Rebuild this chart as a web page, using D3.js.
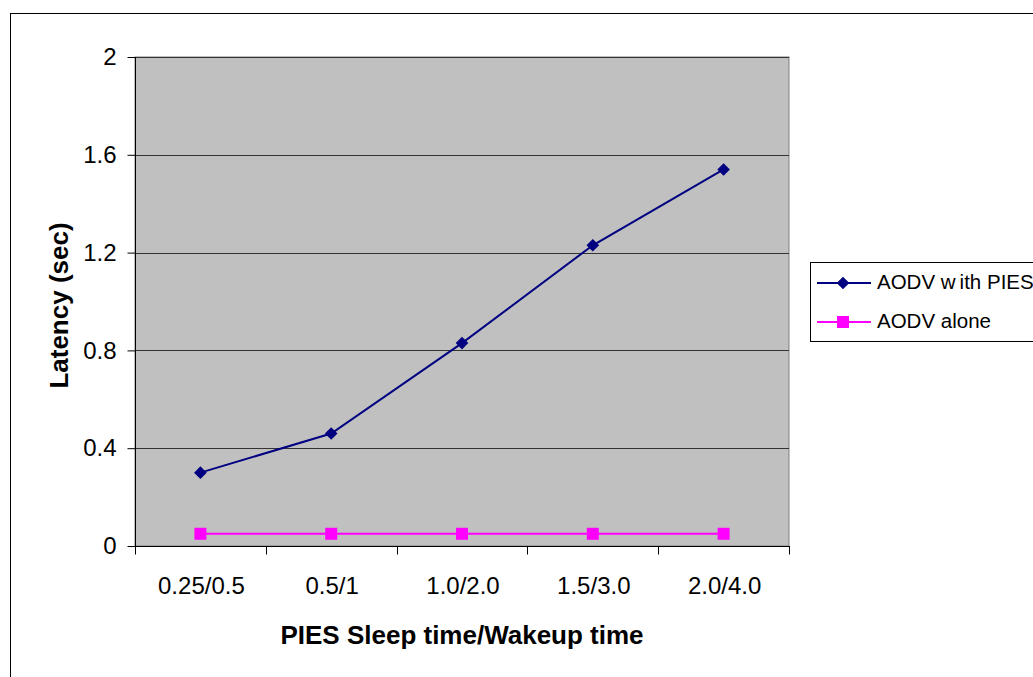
<!DOCTYPE html>
<html>
<head>
<meta charset="utf-8">
<script src="https://cdn.jsdelivr.net/npm/d3@7"></script>
<style>
  html, body { margin: 0; padding: 0; background: #fff; }
  svg { display: block; font-family: "Liberation Sans", Arial, sans-serif; }
</style>
</head>
<body>
<svg id="chart" width="1033" height="677"></svg>
<script>
// Sleep/wakeup settings along the x axis
const categories = ["0.25/0.5", "0.5/1", "1.0/2.0", "1.5/3.0", "2.0/4.0"];
// Latency in seconds for each configuration
const aodvWithPies = [0.30, 0.46, 0.83, 1.23, 1.54];
const aodvAlone = [0.05, 0.05, 0.05, 0.05, 0.05];
const yTicks = [0, 0.4, 0.8, 1.2, 1.6, 2];
const seriesNames = ["AODV with PIES", "AODV alone"];

const FONT = "Liberation Sans, Arial, sans-serif";
const svg = d3.select("#chart");

// Outer chart frame
svg.append("rect")
  .attr("x", 10.5).attr("y", 13.5)
  .attr("width", 1100).attr("height", 700)
  .attr("fill", "#fff").attr("stroke", "#000").attr("stroke-width", 1);

const plot = { left: 135, right: 789, top: 57, bottom: 546 };

const x = d3.scaleBand().domain(categories).range([plot.left, plot.right]);
const y = d3.scaleLinear().domain([0, 2]).range([plot.bottom, plot.top]);

// Plot area background
svg.append("rect")
  .attr("x", plot.left).attr("y", plot.top)
  .attr("width", plot.right - plot.left).attr("height", plot.bottom - plot.top)
  .attr("fill", "#c0c0c0").attr("stroke", "#808080").attr("stroke-width", 1);

// Horizontal gridlines
svg.append("g")
  .selectAll("line")
  .data(yTicks.filter(d => d > 0))
  .join("line")
  .attr("x1", plot.left).attr("x2", plot.right)
  .attr("y1", d => Math.round(y(d)) + 0.5).attr("y2", d => Math.round(y(d)) + 0.5)
  .attr("stroke", "#333").attr("stroke-width", 1);

// Y axis
const yAxis = svg.append("g")
  .attr("transform", `translate(${plot.left + 0.5},0)`)
  .call(d3.axisLeft(y).tickValues(yTicks).tickSize(8).tickPadding(11)
    .tickFormat(d => d3.format("")(d)));
yAxis.attr("font-size", null).attr("font-family", null);
yAxis.selectAll("text").attr("font-size", 24).attr("fill", "#000")
  .attr("font-family", FONT);
yAxis.selectAll("line, path").attr("stroke", "#000");
yAxis.select(".domain").attr("d", `M0,${plot.top}V${plot.bottom}`);

// X axis with ticks on category boundaries
const xAxisG = svg.append("g")
  .attr("transform", `translate(0,${plot.bottom + 0.5})`);
xAxisG.append("line")
  .attr("x1", plot.left).attr("x2", plot.right + 1)
  .attr("stroke", "#000");
const boundaries = categories.map(c => x(c)).concat([x.range()[1]]);
xAxisG.selectAll("line.tick")
  .data(boundaries)
  .join("line")
  .attr("class", "tick")
  .attr("x1", d => Math.round(d) + 0.5).attr("x2", d => Math.round(d) + 0.5)
  .attr("y1", 0).attr("y2", 8)
  .attr("stroke", "#000");
xAxisG.selectAll("text")
  .data(categories)
  .join("text")
  .attr("x", d => x(d) + x.bandwidth() / 2 + 1)
  .attr("y", 47.5)
  .attr("text-anchor", "middle")
  .attr("font-size", 24)
  .text(d => d);

// Axis titles
svg.append("text")
  .attr("x", (plot.left + plot.right) / 2).attr("y", 644)
  .attr("text-anchor", "middle")
  .attr("font-size", 26).attr("font-weight", "bold")
  .text("PIES Sleep time/Wakeup time");

svg.append("text")
  .attr("transform", `translate(68,${(plot.top + plot.bottom) / 2 + 4}) rotate(-90)`)
  .attr("text-anchor", "middle")
  .attr("font-size", 26).attr("font-weight", "bold")
  .text("Latency (sec)");

const cx = d => x(d) + x.bandwidth() / 2;
const line = d3.line().x((d, i) => cx(categories[i])).y(d => y(d));

// AODV with PIES
svg.append("path").datum(aodvWithPies)
  .attr("d", line).attr("fill", "none")
  .attr("stroke", "#000080").attr("stroke-width", 2);
svg.append("g").selectAll("path")
  .data(aodvWithPies)
  .join("path")
  .attr("transform", (d, i) => `translate(${cx(categories[i])},${y(d)}) rotate(45)`)
  .attr("d", d3.symbol().type(d3.symbolSquare).size(80))
  .attr("fill", "#000080");

// AODV alone
svg.append("path").datum(aodvAlone)
  .attr("d", line).attr("fill", "none")
  .attr("stroke", "#ff00ff").attr("stroke-width", 2);
svg.append("g").selectAll("rect")
  .data(aodvAlone)
  .join("rect")
  .attr("x", (d, i) => cx(categories[i]) - 6)
  .attr("y", d => y(d) - 6)
  .attr("width", 12).attr("height", 12)
  .attr("fill", "#ff00ff");

// Legend
const legend = svg.append("g");
legend.append("rect")
  .attr("x", 810.5).attr("y", 262.5)
  .attr("width", 300).attr("height", 79)
  .attr("fill", "#fff").attr("stroke", "#000");
const legendRows = [
  { name: seriesNames[0], color: "#000080", shape: "diamond", yPos: 283 },
  { name: seriesNames[1], color: "#ff00ff", shape: "square", yPos: 322 }
];
legendRows.forEach(r => {
  legend.append("line")
    .attr("x1", 817).attr("x2", 871)
    .attr("y1", r.yPos).attr("y2", r.yPos)
    .attr("stroke", r.color).attr("stroke-width", 2);
  if (r.shape === "diamond") {
    legend.append("path")
      .attr("transform", `translate(843,${r.yPos}) rotate(45)`)
      .attr("d", d3.symbol().type(d3.symbolSquare).size(80))
      .attr("fill", r.color);
  } else {
    legend.append("rect")
      .attr("x", 837).attr("y", r.yPos - 6)
      .attr("width", 12).attr("height", 12)
      .attr("fill", r.color);
  }
  const t = legend.append("text")
    .attr("x", 877).attr("y", r.yPos + 6)
    .attr("font-size", 20.5);
  if (r.name === "AODV with PIES") {
    t.append("tspan").text("AODV w");
    t.append("tspan").attr("dx", 4).text("ith PIES");
  } else {
    t.text(r.name);
  }
});
</script>
</body>
</html>
